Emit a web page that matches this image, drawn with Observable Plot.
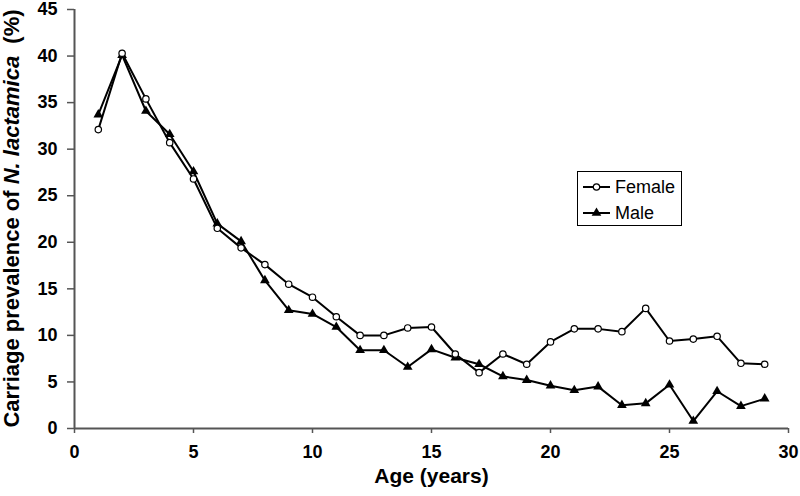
<!DOCTYPE html>
<html>
<head>
<meta charset="utf-8">
<script src="https://cdn.jsdelivr.net/npm/d3@7"></script>
<script src="https://cdn.jsdelivr.net/npm/@observablehq/plot@0.6"></script>
<style>
  body { margin: 0; background: #fff; }
  #chart { position: relative; width: 800px; height: 496px; font-family: "Liberation Sans", Arial, sans-serif; }
  #legend { position: absolute; left: 577px; top: 171px; }
</style>
</head>
<body>
<div id="chart"></div>
<script>
// ---- data ----
const ages = [1,2,3,4,5,6,7,8,9,10,11,12,13,14,15,16,17,18,19,20,21,22,23,24,25,26,27,28,29];
const female = [32.1,40.3,35.4,30.7,26.8,21.5,19.4,17.6,15.5,14.1,12.0,10.0,10.0,10.8,10.9,8.0,6.0,8.0,6.9,9.3,10.7,10.7,10.4,12.9,9.4,9.6,9.9,7.0,6.9];
const male   = [33.7,40.1,34.1,31.6,27.6,22.0,20.1,15.9,12.7,12.3,10.9,8.4,8.4,6.6,8.5,7.6,6.9,5.6,5.2,4.6,4.1,4.5,2.5,2.7,4.7,0.8,4.0,2.4,3.2];
const seriesNames = ["Female", "Male"];
const xTicks = [0,5,10,15,20,25,30];
const yTicks = [0,5,10,15,20,25,30,35,40,45];
const xTitle = "Age (years)";
const yTitleParts = [["Carriage prevalence of ", "normal"], ["N. lactamica", "italic"], ["  (%)", "normal"]];

const rows = ages.flatMap((a, i) => [
  {age: a, value: female[i], sex: seriesNames[0]},
  {age: a, value: male[i], sex: seriesNames[1]}
]);
const fRows = rows.filter(d => d.sex === "Female");
const mRows = rows.filter(d => d.sex === "Male");

const font = '"Liberation Sans", Arial, sans-serif';
const axisGray = "#555";

const plot = Plot.plot({
  width: 800,
  height: 496,
  marginLeft: 74,
  marginRight: 12,
  marginTop: 9,
  marginBottom: 68,
  style: {fontFamily: font, fontSize: "18px", fontWeight: "bold", color: "#000", background: "#fff"},
  x: {domain: [0, 30]},
  y: {domain: [0, 45]},
  marks: [
    Plot.axisX({ticks: xTicks, tickSize: 5, tickPadding: 12, stroke: axisGray, strokeWidth: 1.5, label: null, fill: "#000", fontSize: 18, fontWeight: "bold"}),
    Plot.axisY({ticks: yTicks, tickSize: 7, tickPadding: 10, stroke: axisGray, strokeWidth: 1.5, label: null, fill: "#000", fontSize: 18, fontWeight: "bold"}),
    Plot.ruleY([0], {stroke: axisGray, strokeWidth: 2}),
    Plot.ruleX([0], {stroke: axisGray, strokeWidth: 2}),
    Plot.line(fRows, {x: "age", y: "value", stroke: "#000", strokeWidth: 2}),
    Plot.line(mRows, {x: "age", y: "value", stroke: "#000", strokeWidth: 2}),
    Plot.dot(mRows, {x: "age", y: "value", symbol: "triangle", r: 3.6, fill: "#000", stroke: "none"}),
    Plot.dot(fRows, {x: "age", y: "value", symbol: "circle", r: 3.2, fill: "#fff", stroke: "#000", strokeWidth: 1.2}),
    Plot.text([xTitle], {text: d => d, frameAnchor: "bottom", dy: 54, fontSize: 21, fontWeight: "bold", fill: "#000"})
  ]
});

// y-axis title with italic species name
const yr = plot.scale("y").range;
const cy = (yr[0] + yr[1]) / 2;
const yt = d3.select(plot).append("text")
  .attr("transform", `translate(19,${cy}) rotate(-90)`)
  .attr("text-anchor", "middle")
  .attr("font-family", font)
  .attr("font-size", 22)
  .attr("font-weight", "bold")
  .attr("fill", "#000")
  .style("white-space", "pre");
yTitleParts.forEach(([s, st]) => yt.append("tspan").attr("font-style", st).text(s));

const chart = document.getElementById("chart");
chart.appendChild(plot);

// legend
const lw = 105, lh = 55;
const leg = d3.select(chart).append("svg").attr("id", "legend").attr("width", lw).attr("height", lh);
leg.append("rect").attr("x", 0.5).attr("y", 0.5).attr("width", lw - 1).attr("height", lh - 1)
  .attr("fill", "#fff").attr("stroke", "#000").attr("stroke-width", 1);
const symbols = {Female: d3.symbolCircle, Male: d3.symbolTriangle};
const rads = {Female: 3.2, Male: 3.6};
seriesNames.forEach((name, i) => {
  const yy = 16 + i * 26;
  const g = leg.append("g");
  g.append("line").attr("x1", 6).attr("x2", 33).attr("y1", yy).attr("y2", yy).attr("stroke", "#000").attr("stroke-width", 2);
  g.append("path").attr("transform", `translate(19.5,${yy})`)
    .attr("d", d3.symbol(symbols[name], Math.PI * rads[name] * rads[name])())
    .attr("fill", name === "Female" ? "#fff" : "#000")
    .attr("stroke", name === "Female" ? "#000" : "none")
    .attr("stroke-width", 1.2);
  g.append("text").attr("x", 38).attr("y", yy).attr("dy", "0.35em")
    .attr("font-family", font).attr("font-size", 18).attr("fill", "#000").text(name);
});
</script>
</body>
</html>
